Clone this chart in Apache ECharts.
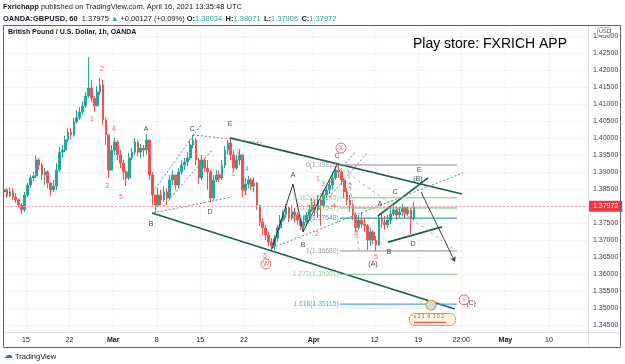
<!DOCTYPE html>
<html>
<head>
<meta charset="utf-8">
<script src="https://cdn.jsdelivr.net/npm/echarts@6/dist/echarts.min.js"></script>
<style>
  html, body { margin: 0; padding: 0; background: #fff; }
  #chart { width: 625px; height: 364px; }
</style>
</head>
<body>
<div id="chart"></div>
<script>
// GBPUSD 1h snapshot, redrawn as 8h candles (3 per trading day)
// x unit = trading days, 0 = Mon Feb 15 2021 (weekends skipped like TradingView)
const firstBarDay = -2.5
const barsPerDay = 3

// [open, close, low, high]
const candles = [
  [1.3842, 1.3848, 1.3827, 1.3856], [1.3848, 1.3830, 1.3824, 1.3853], [1.3830, 1.3842, 1.3827, 1.3856],
  [1.3842, 1.3827, 1.3818, 1.3853], [1.3827, 1.3818, 1.3809, 1.3839], [1.3818, 1.3803, 1.3797, 1.3824],
  [1.3803, 1.3789, 1.3777, 1.3809], [1.3789, 1.3833, 1.3783, 1.3842], [1.3833, 1.3862, 1.3827, 1.3868],
  [1.3862, 1.3883, 1.3853, 1.3892], [1.3883, 1.3889, 1.3874, 1.3901], [1.3889, 1.3936, 1.3883, 1.3948],
  [1.3936, 1.3921, 1.3906, 1.3942], [1.3921, 1.3892, 1.3877, 1.3927], [1.3892, 1.3901, 1.3862, 1.3912],
  [1.3901, 1.3868, 1.3853, 1.3906], [1.3868, 1.3848, 1.3830, 1.3871], [1.3848, 1.3859, 1.3842, 1.3877],
  [1.3859, 1.3906, 1.3848, 1.3927], [1.3906, 1.3959, 1.3901, 1.3974], [1.3959, 1.3965, 1.3942, 1.3980],
  [1.3965, 1.3995, 1.3959, 1.4007], [1.3995, 1.4018, 1.3989, 1.4030], [1.4018, 1.4010, 1.3995, 1.4030],
  [1.4010, 1.4048, 1.4004, 1.4060], [1.4048, 1.4060, 1.4042, 1.4083], [1.4060, 1.4077, 1.4054, 1.4092],
  [1.4077, 1.4095, 1.4068, 1.4107], [1.4095, 1.4124, 1.4089, 1.4136], [1.4124, 1.4148, 1.4118, 1.4239],
  [1.4148, 1.4118, 1.4107, 1.4172], [1.4118, 1.4095, 1.4077, 1.4124], [1.4095, 1.4136, 1.4095, 1.4154],
  [1.4136, 1.4157, 1.4127, 1.4177], [1.4157, 1.4054, 1.4039, 1.4172], [1.4054, 1.4010, 1.3980, 1.4060],
  [1.4010, 1.3906, 1.3883, 1.4010], [1.3906, 1.3965, 1.3906, 1.3980], [1.3965, 1.3989, 1.3951, 1.4001],
  [1.3989, 1.3951, 1.3936, 1.3995], [1.3951, 1.3927, 1.3912, 1.3965], [1.3927, 1.3901, 1.3877, 1.3936],
  [1.3901, 1.3883, 1.3859, 1.3906], [1.3883, 1.3942, 1.3877, 1.3957], [1.3942, 1.3959, 1.3936, 1.3971],
  [1.3959, 1.3989, 1.3951, 1.4001], [1.3989, 1.3959, 1.3948, 1.3995], [1.3959, 1.3971, 1.3942, 1.3983],
  [1.3971, 1.3965, 1.3945, 1.3980], [1.3965, 1.3995, 1.3951, 1.4012], [1.3995, 1.3892, 1.3877, 1.3995],
  [1.3892, 1.3833, 1.3803, 1.3901], [1.3833, 1.3803, 1.3780, 1.3833], [1.3803, 1.3833, 1.3797, 1.3853],
  [1.3833, 1.3818, 1.3803, 1.3848], [1.3818, 1.3842, 1.3812, 1.3859], [1.3842, 1.3824, 1.3803, 1.3853],
  [1.3824, 1.3877, 1.3818, 1.3892], [1.3877, 1.3892, 1.3862, 1.3906], [1.3892, 1.3862, 1.3848, 1.3892],
  [1.3862, 1.3901, 1.3853, 1.3912], [1.3901, 1.3921, 1.3892, 1.3936], [1.3921, 1.3930, 1.3906, 1.3942],
  [1.3930, 1.3942, 1.3918, 1.3959], [1.3942, 1.3980, 1.3936, 1.3995], [1.3980, 1.3995, 1.3971, 1.4010],
  [1.3995, 1.3936, 1.3921, 1.4001], [1.3936, 1.3883, 1.3865, 1.3942], [1.3883, 1.3936, 1.3877, 1.3951],
  [1.3936, 1.3912, 1.3901, 1.3942], [1.3912, 1.3901, 1.3848, 1.3936], [1.3901, 1.3824, 1.3812, 1.3906],
  [1.3824, 1.3877, 1.3818, 1.3892], [1.3877, 1.3892, 1.3871, 1.3906], [1.3892, 1.3883, 1.3871, 1.3906],
  [1.3883, 1.3921, 1.3877, 1.3936], [1.3921, 1.3965, 1.3912, 1.3977], [1.3965, 1.3986, 1.3951, 1.3995],
  [1.3986, 1.3951, 1.3936, 1.4001], [1.3951, 1.3912, 1.3901, 1.3965], [1.3912, 1.3936, 1.3906, 1.3951],
  [1.3936, 1.3951, 1.3921, 1.3965], [1.3951, 1.3848, 1.3827, 1.3951], [1.3848, 1.3865, 1.3833, 1.3883],
  [1.3865, 1.3877, 1.3853, 1.3889], [1.3877, 1.3859, 1.3848, 1.3883], [1.3859, 1.3868, 1.3842, 1.3883],
  [1.3868, 1.3803, 1.3789, 1.3871], [1.3803, 1.3753, 1.3742, 1.3803], [1.3753, 1.3736, 1.3715, 1.3765],
  [1.3736, 1.3715, 1.3700, 1.3745], [1.3715, 1.3694, 1.3683, 1.3724], [1.3694, 1.3683, 1.3671, 1.3706],
  [1.3683, 1.3706, 1.3671, 1.3715], [1.3706, 1.3736, 1.3694, 1.3745], [1.3736, 1.3759, 1.3730, 1.3774],
  [1.3759, 1.3774, 1.3753, 1.3789], [1.3774, 1.3795, 1.3765, 1.3806], [1.3795, 1.3765, 1.3753, 1.3800],
  [1.3765, 1.3783, 1.3759, 1.3803], [1.3783, 1.3774, 1.3753, 1.3795], [1.3774, 1.3759, 1.3745, 1.3783],
  [1.3759, 1.3742, 1.3730, 1.3765], [1.3742, 1.3753, 1.3724, 1.3771], [1.3753, 1.3774, 1.3742, 1.3783],
  [1.3774, 1.3789, 1.3765, 1.3803], [1.3789, 1.3803, 1.3783, 1.3824], [1.3803, 1.3789, 1.3771, 1.3818],
  [1.3789, 1.3818, 1.3765, 1.3833], [1.3818, 1.3803, 1.3742, 1.3830], [1.3803, 1.3833, 1.3795, 1.3848],
  [1.3833, 1.3848, 1.3824, 1.3859], [1.3848, 1.3862, 1.3836, 1.3877], [1.3862, 1.3883, 1.3848, 1.3901],
  [1.3883, 1.3906, 1.3877, 1.3918], [1.3906, 1.3901, 1.3883, 1.3921], [1.3901, 1.3877, 1.3862, 1.3906],
  [1.3877, 1.3842, 1.3824, 1.3883], [1.3842, 1.3818, 1.3803, 1.3853], [1.3818, 1.3803, 1.3783, 1.3833],
  [1.3803, 1.3774, 1.3759, 1.3809], [1.3774, 1.3736, 1.3724, 1.3783], [1.3736, 1.3759, 1.3730, 1.3774],
  [1.3759, 1.3747, 1.3736, 1.3783], [1.3747, 1.3742, 1.3724, 1.3765], [1.3742, 1.3700, 1.3671, 1.3747],
  [1.3700, 1.3724, 1.3683, 1.3736], [1.3724, 1.3700, 1.3689, 1.3730], [1.3700, 1.3686, 1.3668, 1.3712],
  [1.3686, 1.3765, 1.3683, 1.3774], [1.3765, 1.3753, 1.3736, 1.3777], [1.3753, 1.3745, 1.3730, 1.3771],
  [1.3745, 1.3759, 1.3736, 1.3774], [1.3759, 1.3777, 1.3747, 1.3795], [1.3777, 1.3789, 1.3771, 1.3803],
  [1.3789, 1.3774, 1.3759, 1.3800], [1.3774, 1.3783, 1.3765, 1.3797], [1.3783, 1.3795, 1.3771, 1.3806],
  [1.3795, 1.3777, 1.3765, 1.3800], [1.3777, 1.3789, 1.3771, 1.3800], [1.3789, 1.3765, 1.3718, 1.3795],
  [1.3765, 1.37972, 1.3759, 1.3812]
]
const lastPrice = 1.37972

// axis ticks
const xTickDays = [0, 5, 10, 15, 20, 25, 33, 40, 45, 49.92, 55, 60]
const xTickLabels = ['15', '22', 'Mar', '8', '15', '22', 'Apr', '12', '19', '22:00', 'May', '10']
const priceTicks = [1.345, 1.35, 1.355, 1.36, 1.365, 1.37, 1.375, 1.38, 1.385, 1.39,
  1.395, 1.4, 1.405, 1.41, 1.415, 1.42, 1.425, 1.43]

// drawings, points are [day, price]
const channelLines = [
  [[23.40, 1.4001], [50.02, 1.3836]],
  [[14.45, 1.3780], [49.21, 1.3497]],
  [[40.38, 1.3771], [46.12, 1.3883]],
  [[41.53, 1.3694], [47.72, 1.3739]]
]
const dottedLines = [
  [[14.57, 1.3780], [23.63, 1.3827]],
  [[14.57, 1.3842], [20.08, 1.4039]],
  [[15.72, 1.3798], [21.34, 1.3965]],
  [[19.16, 1.4010], [27.07, 1.3986]],
  [[28.22, 1.3677], [50.13, 1.3898]],
  [[32.58, 1.3798], [37.74, 1.3959]],
  [[31.78, 1.3736], [39.12, 1.3957]]
]
const greyDashLines = [
  [[36.37, 1.3907], [49.21, 1.3671]],
  [[36.94, 1.3907], [38.20, 1.3671]]
]
const zigzag = [[28.22, 1.3674], [30.63, 1.3865], [31.78, 1.3724], [35.79, 1.3927]]
const projection = [[45.31, 1.3842], [49.21, 1.3636]]

// fib retracement / extension
const fibStartDay = 36.0
const fibEndDay = 49.44
const fibRatios = ['0', '0.382', '0.5', '0.618', '1', '1.272', '1.618']
const fibPrices = [1.39213, 1.38245, 1.37947, 1.37648, 1.36680, 1.35991, 1.35115]
const fibColors = ['#8a8d96', '#81c784', '#66bb6a', '#089981', '#8a8d96', '#81c784', '#2196f3']

const redWaveLabels = [
  [8.72, 1.4204, '2'], [7.57, 1.4057, '1'], [10.10, 1.4027, '4'], [9.29, 1.3859, '3'], [10.90, 1.3827, '5'],
  [23.75, 1.3895, '1'], [24.43, 1.3959, '2'], [25.12, 1.3839, '3'], [25.35, 1.3909, '4'], [27.42, 1.3653, '5'],
  [33.50, 1.3880, '1'], [33.38, 1.3718, '2'], [34.07, 1.3865, '3'], [35.33, 1.3800, '4'],
  [37.17, 1.3859, '2'], [37.86, 1.3721, '3'], [40.15, 1.3650, '5']
]
const blackWaveLabels = [
  [13.77, 1.4027, 'A'], [19.04, 1.4027, 'C'], [14.34, 1.3747, 'B'], [21.11, 1.3783, 'D'], [23.40, 1.4042, 'E'],
  [30.63, 1.3892, 'A'], [31.78, 1.3686, 'B'], [35.68, 1.3948, 'C'],
  [40.61, 1.3806, 'A'], [42.33, 1.3842, 'C'], [41.64, 1.3665, 'B'], [44.40, 1.3689, 'D'],
  [39.81, 1.3630, '(A)'], [44.97, 1.3880, '(B)'], [45.10, 1.3905, 'E'], [51.05, 1.3515, '(C)']
]
const circledLabels = [[27.53, 1.3630, 'W'], [36.14, 1.3971, 'X'], [50.25, 1.3524, 'Y']]

const FONT = 'Liberation Sans, Arial, sans-serif'
const TEXT = '#131722'
const UP = '#26a69a'
const DOWN = '#ef5350'

const chart = echarts.init(document.getElementById('chart'))

const candleData = candles.map((c, i) => [firstBarDay + i / barsPerDay, c[0], c[1], c[2], c[3]])

function lineSeries(points, style) {
  return {
    type: 'line', data: points, symbol: 'none', silent: true, z: 3,
    lineStyle: style
  }
}

function textSeries(items, color, size, weight) {
  return {
    type: 'scatter', data: items, symbolSize: 0, silent: true, z: 6,
    label: {
      show: true, position: 'inside', formatter: p => p.data[2],
      color: color, fontSize: size, fontFamily: FONT, fontWeight: weight || 'normal'
    }
  }
}

const series = [
  {
    type: 'candlestick',
    data: candleData,
    dimensions: ['day', 'open', 'close', 'low', 'high'],
    encode: { x: 'day', y: ['open', 'close', 'low', 'high'] },
    barWidth: 2.2,
    silent: true,
    z: 2,
    itemStyle: { color: UP, color0: DOWN, borderColor: UP, borderColor0: DOWN, borderWidth: 1 },
    markLine: {
      silent: true, symbol: ['none', 'none'],
      data: [{ yAxis: lastPrice }],
      lineStyle: { color: '#f4a0a6', type: [2, 2], width: 1 },
      label: {
        position: 'end', distance: 1, formatter: lastPrice.toFixed(5),
        backgroundColor: '#f23645', color: '#fff', fontSize: 7, fontFamily: FONT,
        padding: [2, 4, 2, 4]
      }
    }
  }
]

channelLines.forEach(s => series.push(lineSeries(s, { color: '#17604c', width: 1.6 })))
dottedLines.forEach(s => series.push(lineSeries(s, { color: '#5f8d80', width: 1, type: [2, 2] })))
greyDashLines.forEach(s => series.push(lineSeries(s, { color: '#a6a9b1', width: 1, type: [3, 3] })))
series.push(lineSeries(zigzag, { color: '#2a2e39', width: 1 }))
series.push({
  type: 'line', data: [], silent: true, z: 3,
  markLine: {
    silent: true, symbol: ['none', 'arrow'], symbolSize: 5,
    label: { show: false },
    lineStyle: { color: '#434651', width: 1, type: 'solid' },
    data: [[{ coord: projection[0] }, { coord: projection[1] }]]
  }
})

fibPrices.forEach((p, k) => {
  series.push(lineSeries([[fibStartDay, p], [fibEndDay, p]], { color: fibColors[k], width: 1 }))
  series.push({
    type: 'scatter', data: [[fibStartDay, p, fibRatios[k] + '(' + p.toFixed(5) + ')']],
    symbolSize: 0, silent: true, z: 6,
    label: {
      show: true, position: 'left', distance: 1, formatter: d => d.data[2],
      color: fibColors[k], fontSize: 6.8, fontFamily: FONT
    }
  })
})

series.push(textSeries(redWaveLabels, '#f23645', 7))
series.push(textSeries(blackWaveLabels, TEXT, 7))
series.push({
  type: 'scatter', data: circledLabels, symbol: 'circle', symbolSize: 10, silent: true, z: 7,
  itemStyle: { color: '#fff', borderColor: '#f23645', borderWidth: 1 },
  label: { show: true, position: 'inside', formatter: p => p.data[2], color: '#f23645', fontSize: 6.5, fontFamily: FONT }
})

const headerRich = {
  b: { fontWeight: 'bold', fontSize: 7.5, fontFamily: FONT, fill: TEXT },
  t: { fontSize: 7.5, fontFamily: FONT, fill: UP },
  n: { fontSize: 7.5, fontFamily: FONT, fill: TEXT }
}

chart.setOption({
  animation: false,
  backgroundColor: '#fff',
  grid: { left: 3, top: 25, width: 585, height: 307 },
  xAxis: {
    type: 'value', min: -2.6385, max: 64.472,
    axisLine: { show: false },
    axisTick: { show: false, customValues: xTickDays },
    axisLabel: {
      customValues: xTickDays, margin: 5, fontSize: 7, fontFamily: FONT, color: TEXT,
      formatter: v => {
        const k = xTickDays.findIndex(t => Math.abs(t - v) < 1e-6)
        if (k < 0) return ''
        const s = xTickLabels[k]
        return /^[A-Z]/.test(s) ? '{m|' + s + '}' : s
      },
      rich: { m: { fontWeight: 'bold', fontSize: 7, fontFamily: FONT, color: TEXT } }
    },
    splitLine: { show: true, lineStyle: { color: '#f0f3fa', width: 1 } }
  },
  yAxis: {
    type: 'value', position: 'right', min: 1.342939, max: 1.433339,
    axisLine: { show: false },
    axisTick: { show: false, customValues: priceTicks },
    axisLabel: {
      customValues: priceTicks, margin: 5, fontSize: 7, fontFamily: FONT, color: '#3b3e48',
      formatter: v => v.toFixed(5)
    },
    splitLine: { show: true, lineStyle: { color: '#f0f3fa', width: 1 } }
  },
  series: series,
  graphic: [
    {
      type: 'text', left: 3, top: 3, z: 10,
      style: {
        text: '{b|Fxrichapp}{n| published on TradingView.com, April 16, 2021 13:35:48 UTC}',
        rich: headerRich
      }
    },
    {
      type: 'text', left: 3, top: 13, z: 10,
      style: {
        text: '{b|OANDA:GBPUSD, 60}{n|  1.37975 }{t|▲}{n| +0.00127 (+0.09%) }{b|O:}{t|1.38034} {b|H:}{t|1.38071} {b|L:}{t|1.37906} {b|C:}{t|1.37972}',
        rich: headerRich
      }
    },
    {
      type: 'text', left: 8, top: 29, z: 10,
      style: { text: 'British Pound / U.S. Dollar, 1h, OANDA', fontSize: 7, fontWeight: 'bold', fontFamily: FONT, fill: TEXT }
    },
    {
      type: 'text', left: 413, top: 37, z: 10,
      style: { text: 'Play store: FXRICH APP', fontSize: 14, fontFamily: FONT, fill: '#000' }
    },
    {
      type: 'line', z: 9, silent: true,
      shape: { x1: 588.5, y1: 25, x2: 588.5, y2: 348 },
      style: { stroke: '#e0e3eb', lineWidth: 1 }
    },
    {
      type: 'line', z: 9, silent: true,
      shape: { x1: 3, y1: 332.5, x2: 621, y2: 332.5 },
      style: { stroke: '#e0e3eb', lineWidth: 1 }
    },
    {
      type: 'rect', z: 11, silent: true,
      shape: { x: 3.5, y: 25.5, width: 617, height: 322 },
      style: { fill: 'none', stroke: '#5d606b', lineWidth: 1 }
    },
    {
      type: 'rect', z: 11, silent: true,
      shape: { x: 597.5, y: 27.5, width: 13, height: 8, r: 2 },
      style: { fill: '#fff', stroke: '#9598a1', lineWidth: 0.8 }
    },
    {
      type: 'text', left: 599, top: 28.5, z: 12,
      style: { text: 'USD', fontSize: 5.5, fontFamily: FONT, fill: '#50535e' }
    },
    {
      type: 'circle', z: 11, silent: true,
      shape: { cx: 431, cy: 305, r: 5 },
      style: { fill: '#cfd8f5', stroke: '#ff9800', lineWidth: 1.2 }
    },
    {
      type: 'rect', z: 11, silent: true,
      shape: { x: 409.5, y: 313.5, width: 46, height: 12, r: 5 },
      style: { fill: '#fff3e0', stroke: '#ff9800', lineWidth: 1 }
    },
    {
      type: 'text', left: 414, top: 314, z: 12,
      style: { text: 'ε 2 1  4  1 0 2', fontSize: 5, fontFamily: FONT, fill: '#6a6d78' }
    },
    {
      type: 'text', left: 414, top: 319.5, z: 12,
      style: { text: '▬▬▬▬▬▬▬▬', fontSize: 4, fontFamily: FONT, fill: '#e5533d' }
    },
    {
      type: 'text', left: 4, top: 351, z: 10,
      style: { text: '☁', fontSize: 9, fontFamily: 'DejaVu Sans', fill: '#2962ff' }
    },
    {
      type: 'text', left: 15, top: 353, z: 10,
      style: { text: 'TradingView', fontSize: 7.5, fontFamily: FONT, fill: '#131722' }
    }
  ]
})
</script>
</body>
</html>
